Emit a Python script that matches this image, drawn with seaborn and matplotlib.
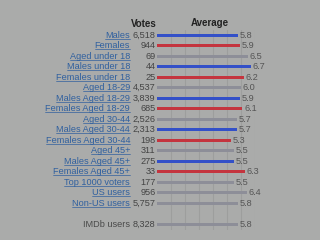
import matplotlib
matplotlib.use("Agg")
import matplotlib.pyplot as plt
from matplotlib.lines import Line2D
import seaborn as sns
import pandas as pd

labels = ["Males", "Females", "Aged under 18", "Males under 18", "Females under 18",
          "Aged 18-29", "Males Aged 18-29", "Females Aged 18-29", "Aged 30-44",
          "Males Aged 30-44", "Females Aged 30-44", "Aged 45+", "Males Aged 45+",
          "Females Aged 45+", "Top 1000 voters", "US users", "Non-US users", "IMDb users"]
votes = ["6,518", "944", "69", "44", "25", "4,537", "3,839", "685", "2,526", "2,313",
         "198", "311", "275", "33", "177", "956", "5,757", "8,328"]
averages = [5.8, 5.9, 6.5, 6.7, 6.2, 6.0, 5.9, 6.1, 5.7, 5.7, 5.3, 5.5, 5.5, 6.3,
            5.5, 6.4, 5.8, 5.8]
groups = ["m", "f", "a", "m", "f", "a", "m", "f", "a", "m", "f", "a", "m", "f",
          "a", "a", "a", "a"]

palette = {"m": "#3350c8", "f": "#c4343e", "a": "#8d8e98"}
bg = "#aaabaa"

order = labels[:-1] + [" "] + labels[-1:]
df = pd.DataFrame({"label": labels, "avg": averages, "grp": groups, "votes": votes})

sns.set_style("white")
plt.rcParams["font.family"] = ["Liberation Sans", "DejaVu Sans"]

fig = plt.figure(figsize=(3.2, 2.4), dpi=100, facecolor=bg)
ax = fig.add_axes([157/320, 1 - 229.5/240, 98/320, 199.5/240])
ax.set_facecolor(bg)

sns.barplot(data=df, x="avg", y="label", hue="grp", palette=palette, order=order,
            orient="h", width=0.3, dodge=False, legend=False, ax=ax,
            linewidth=0, edgecolor="none", saturation=1)

ax.set_xlim(0, 7)
ax.set_ylim(len(order) - 0.5, -0.5)
for xv in range(1, 8):
    ax.axvline(xv, color="#9d9e9d", lw=0.8, zorder=0)
for s in ax.spines.values():
    s.set_visible(False)
ax.set_xticks([])
ax.set_yticks([])
ax.set_xlabel("")
ax.set_ylabel("")

fs = 6.6
trans = ax.get_yaxis_transform()
label_texts = []
for i, row in df.iterrows():
    ypos = order.index(row["label"])
    t = ax.text(-0.275, ypos, row["label"], transform=trans, ha="right", va="center",
                fontsize=fs, color="#30609f", clip_on=False)
    if row["label"] != "IMDb users":
        label_texts.append(t)
    else:
        t.set_color("#4a4a4a")
    ax.text(-0.015, ypos, row["votes"], transform=trans, ha="right", va="center",
            fontsize=fs, color="#444444", clip_on=False)
    ax.text(row["avg"] + 0.12, ypos, f"{row['avg']:.1f}", ha="left", va="center",
            fontsize=fs, color="#555555", clip_on=False)

fig.text(144/320, 1 - 24/240, "Votes", ha="center", va="center", fontsize=7,
         fontweight="bold", color="#222222")
fig.text(210/320, 1 - 23/240, "Average", ha="center", va="center", fontsize=7,
         fontweight="bold", color="#222222")

fig.canvas.draw()
r = fig.canvas.get_renderer()
for t in label_texts:
    bb = t.get_window_extent(r)
    yline = (bb.y0 + 0.8) / fig.bbox.height
    fig.add_artist(Line2D([bb.x0 / fig.bbox.width, bb.x1 / fig.bbox.width],
                          [yline, yline], transform=fig.transFigure,
                          color="#30609f", lw=0.5))

fig.savefig("out.png", dpi=100, facecolor=bg)
